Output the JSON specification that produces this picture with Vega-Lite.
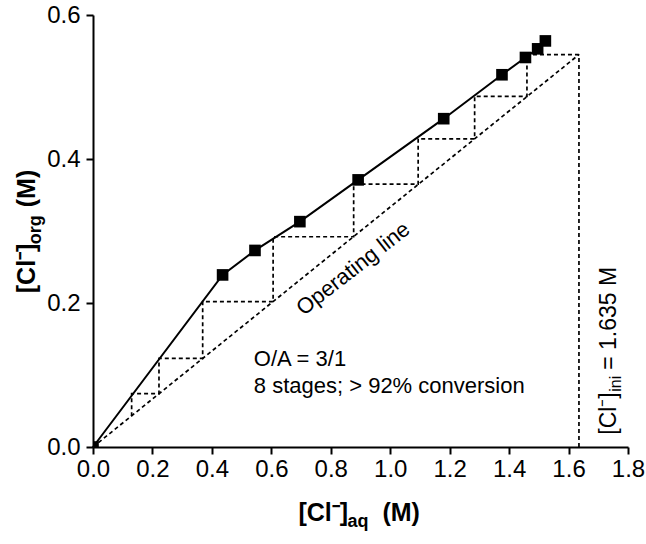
{
  "$schema": "https://vega.github.io/schema/vega-lite/v6.json",
  "width": 535,
  "height": 432,
  "autosize": {"type": "none"},
  "padding": {"left": 93, "top": 15, "right": 18, "bottom": 97},
  "background": "white",
  "config": {
    "view": {"stroke": null},
    "font": "Liberation Sans",
    "axis": {
      "domainColor": "black",
      "domainWidth": 2,
      "tickColor": "black",
      "tickWidth": 2,
      "tickSize": 7,
      "labelColor": "black",
      "labelFont": "Liberation Sans",
      "labelFontSize": 24,
      "labelFlush": false,
      "labelOverlap": false,
      "grid": false,
      "title": null
    }
  },
  "datasets": {
    "one": [{}],
    "eq": [
      {"x": 0, "y": 0},
      {"x": 0.436, "y": 0.239},
      {"x": 0.545, "y": 0.273},
      {"x": 0.696, "y": 0.313},
      {"x": 0.892, "y": 0.371},
      {"x": 1.18, "y": 0.456},
      {"x": 1.376, "y": 0.517},
      {"x": 1.455, "y": 0.541},
      {"x": 1.496, "y": 0.553},
      {"x": 1.522, "y": 0.564}
    ],
    "dashed": [
      {"series": "operating", "step": 0, "x": 0, "y": 0},
      {"series": "operating", "step": 1, "x": 1.635, "y": 0.545},
      {"series": "feed", "step": 0, "x": 1.635, "y": 0},
      {"series": "feed", "step": 1, "x": 1.635, "y": 0.545},
      {"series": "stages", "step": 0, "x": 1.635, "y": 0.545},
      {"series": "stages", "step": 1, "x": 1.46, "y": 0.545},
      {"series": "stages", "step": 2, "x": 1.46, "y": 0.487},
      {"series": "stages", "step": 3, "x": 1.284, "y": 0.487},
      {"series": "stages", "step": 4, "x": 1.284, "y": 0.428},
      {"series": "stages", "step": 5, "x": 1.094, "y": 0.428},
      {"series": "stages", "step": 6, "x": 1.094, "y": 0.365},
      {"series": "stages", "step": 7, "x": 0.877, "y": 0.365},
      {"series": "stages", "step": 8, "x": 0.877, "y": 0.292},
      {"series": "stages", "step": 9, "x": 0.606, "y": 0.292},
      {"series": "stages", "step": 10, "x": 0.606, "y": 0.202},
      {"series": "stages", "step": 11, "x": 0.369, "y": 0.202},
      {"series": "stages", "step": 12, "x": 0.369, "y": 0.123},
      {"series": "stages", "step": 13, "x": 0.222, "y": 0.123},
      {"series": "stages", "step": 14, "x": 0.222, "y": 0.074},
      {"series": "stages", "step": 15, "x": 0.13, "y": 0.074},
      {"series": "stages", "step": 16, "x": 0.13, "y": 0.043}
    ]
  },
  "layer": [
    {
      "data": {"name": "dashed"},
      "mark": {"type": "line", "color": "black", "strokeWidth": 1.7, "strokeDash": [4, 3]},
      "encoding": {
        "x": {"field": "x", "type": "quantitative", "scale": {"domain": [0, 1.8], "nice": false, "zero": false},
              "axis": {"values": [0, 0.2, 0.4, 0.6, 0.8, 1.0, 1.2, 1.4, 1.6, 1.8], "format": ".1f", "labelPadding": 3}},
        "y": {"field": "y", "type": "quantitative", "scale": {"domain": [0, 0.6], "nice": false, "zero": false},
              "axis": {"values": [0, 0.2, 0.4, 0.6], "format": ".1f", "labelPadding": 6}},
        "detail": {"field": "series"},
        "order": {"field": "step", "type": "quantitative"}
      }
    },
    {
      "data": {"name": "eq"},
      "mark": {"type": "line", "color": "black", "strokeWidth": 2},
      "encoding": {
        "x": {"field": "x", "type": "quantitative"},
        "y": {"field": "y", "type": "quantitative"},
        "order": {"field": "x", "type": "quantitative"}
      }
    },
    {
      "data": {"name": "eq"},
      "mark": {"type": "point", "shape": "square", "filled": true, "color": "black", "opacity": 1, "size": 135, "clip": true},
      "encoding": {
        "x": {"field": "x", "type": "quantitative"},
        "y": {"field": "y", "type": "quantitative"}
      }
    },
    {
      "data": {"name": "one"},
      "mark": {"type": "text", "text": "Operating line", "angle": 322, "align": "center", "baseline": "alphabetic", "fontSize": 22, "color": "black"},
      "encoding": {"x": {"datum": 0.89, "type": "quantitative"}, "y": {"datum": 0.24, "type": "quantitative"}}
    },
    {
      "data": {"name": "one"},
      "mark": {"type": "text", "text": ["O/A = 3/1", "8 stages; > 92% conversion"], "lineHeight": 27, "align": "left", "baseline": "alphabetic", "fontSize": 22, "color": "black"},
      "encoding": {"x": {"datum": 0.541, "type": "quantitative"}, "y": {"datum": 0.112, "type": "quantitative"}}
    },
    {
      "data": {"name": "one"},
      "mark": {"type": "text", "text": "[Cl⁻]", "angle": 270, "align": "left", "baseline": "alphabetic", "fontSize": 23, "color": "black"},
      "encoding": {"x": {"datum": 1.76, "type": "quantitative"}, "y": {"datum": 0.017, "type": "quantitative"}}
    },
    {
      "data": {"name": "one"},
      "mark": {"type": "text", "text": "ini", "angle": 270, "align": "left", "baseline": "alphabetic", "fontSize": 16, "dx": 43, "dy": 5, "color": "black"},
      "encoding": {"x": {"datum": 1.76, "type": "quantitative"}, "y": {"datum": 0.017, "type": "quantitative"}}
    },
    {
      "data": {"name": "one"},
      "mark": {"type": "text", "text": "= 1.635 M", "angle": 270, "align": "left", "baseline": "alphabetic", "fontSize": 23, "dx": 65, "color": "black"},
      "encoding": {"x": {"datum": 1.76, "type": "quantitative"}, "y": {"datum": 0.017, "type": "quantitative"}}
    },
    {
      "data": {"name": "one"},
      "mark": {"type": "text", "text": "[Cl⁻]", "align": "left", "baseline": "alphabetic", "fontSize": 25, "fontWeight": "bold", "color": "black"},
      "encoding": {"x": {"datum": 0.6912, "type": "quantitative"}, "y": {"datum": -0.1025, "type": "quantitative"}}
    },
    {
      "data": {"name": "one"},
      "mark": {"type": "text", "text": "aq", "align": "left", "baseline": "alphabetic", "fontSize": 18, "fontWeight": "bold", "dx": 49, "dy": 6, "color": "black"},
      "encoding": {"x": {"datum": 0.6912, "type": "quantitative"}, "y": {"datum": -0.1025, "type": "quantitative"}}
    },
    {
      "data": {"name": "one"},
      "mark": {"type": "text", "text": "(M)", "align": "left", "baseline": "alphabetic", "fontSize": 25, "fontWeight": "bold", "dx": 84, "color": "black"},
      "encoding": {"x": {"datum": 0.6912, "type": "quantitative"}, "y": {"datum": -0.1025, "type": "quantitative"}}
    },
    {
      "data": {"name": "one"},
      "mark": {"type": "text", "text": "[Cl⁻]", "angle": 270, "align": "left", "baseline": "alphabetic", "fontSize": 25, "fontWeight": "bold", "color": "black"},
      "encoding": {"x": {"datum": -0.195, "type": "quantitative"}, "y": {"datum": 0.2136, "type": "quantitative"}}
    },
    {
      "data": {"name": "one"},
      "mark": {"type": "text", "text": "org", "angle": 270, "align": "left", "baseline": "alphabetic", "fontSize": 18, "fontWeight": "bold", "dx": 49, "dy": 6, "color": "black"},
      "encoding": {"x": {"datum": -0.195, "type": "quantitative"}, "y": {"datum": 0.2136, "type": "quantitative"}}
    },
    {
      "data": {"name": "one"},
      "mark": {"type": "text", "text": "(M)", "angle": 270, "align": "left", "baseline": "alphabetic", "fontSize": 25, "fontWeight": "bold", "dx": 86, "color": "black"},
      "encoding": {"x": {"datum": -0.195, "type": "quantitative"}, "y": {"datum": 0.2136, "type": "quantitative"}}
    }
  ]
}
